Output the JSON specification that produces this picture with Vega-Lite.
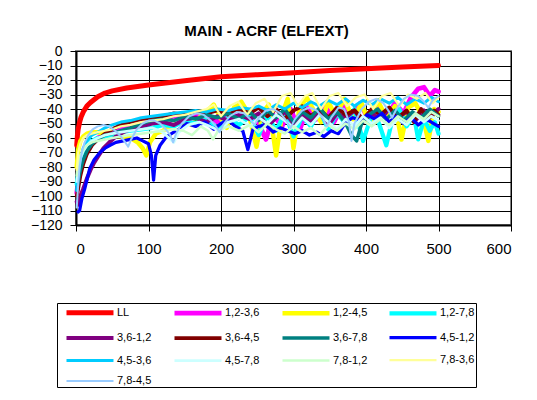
{
"$schema":"https://vega.github.io/schema/vega-lite/v6.json",
"width":435,"height":174,"autosize":"none",
"padding":{"left":76,"top":51,"right":26,"bottom":175},
"background":"white",
"title":{"text":"MAIN - ACRF (ELFEXT)","font":"Liberation Sans","fontSize":15,"fontWeight":"bold","color":"black","anchor":"middle","dx":-27,"offset":5},
"data":{"values":[
{"s":"LL","x":1,"y":-65},{"s":"LL","x":2,"y":-58},{"s":"LL","x":3,"y":-54},{"s":"LL","x":5,"y":-49},{"s":"LL","x":7,"y":-45.5},{"s":"LL","x":10,"y":-42},{"s":"LL","x":15,"y":-38},{"s":"LL","x":20,"y":-35.5},{"s":"LL","x":30,"y":-31.5},{"s":"LL","x":40,"y":-29},{"s":"LL","x":50,"y":-27.5},{"s":"LL","x":70,"y":-25.5},{"s":"LL","x":100,"y":-23.5},{"s":"LL","x":150,"y":-20.5},{"s":"LL","x":200,"y":-17.8},{"s":"LL","x":250,"y":-16.3},{"s":"LL","x":300,"y":-15},{"s":"LL","x":350,"y":-13.5},{"s":"LL","x":400,"y":-12.2},{"s":"LL","x":450,"y":-11},{"s":"LL","x":500,"y":-10},
{"s":"1,2-3,6","x":1,"y":-98},{"s":"1,2-3,6","x":3,"y":-90},{"s":"1,2-3,6","x":6,"y":-80},{"s":"1,2-3,6","x":10,"y":-74},{"s":"1,2-3,6","x":15,"y":-69},{"s":"1,2-3,6","x":22,"y":-64},{"s":"1,2-3,6","x":30,"y":-60},{"s":"1,2-3,6","x":40,"y":-57},{"s":"1,2-3,6","x":50,"y":-55},{"s":"1,2-3,6","x":62,"y":-53},{"s":"1,2-3,6","x":75,"y":-51},{"s":"1,2-3,6","x":90,"y":-49},{"s":"1,2-3,6","x":105,"y":-48},{"s":"1,2-3,6","x":120,"y":-47},{"s":"1,2-3,6","x":135,"y":-45},{"s":"1,2-3,6","x":150,"y":-48},{"s":"1,2-3,6","x":165,"y":-44},{"s":"1,2-3,6","x":180,"y":-43},{"s":"1,2-3,6","x":195,"y":-49},{"s":"1,2-3,6","x":210,"y":-42},{"s":"1,2-3,6","x":225,"y":-46},{"s":"1,2-3,6","x":240,"y":-41},{"s":"1,2-3,6","x":252,"y":-50},{"s":"1,2-3,6","x":262,"y":-61},{"s":"1,2-3,6","x":272,"y":-44},{"s":"1,2-3,6","x":284,"y":-52},{"s":"1,2-3,6","x":296,"y":-40},{"s":"1,2-3,6","x":308,"y":-55},{"s":"1,2-3,6","x":320,"y":-39},{"s":"1,2-3,6","x":332,"y":-47},{"s":"1,2-3,6","x":344,"y":-38},{"s":"1,2-3,6","x":356,"y":-49},{"s":"1,2-3,6","x":368,"y":-37},{"s":"1,2-3,6","x":380,"y":-44},{"s":"1,2-3,6","x":392,"y":-36},{"s":"1,2-3,6","x":404,"y":-48},{"s":"1,2-3,6","x":416,"y":-38},{"s":"1,2-3,6","x":428,"y":-45},{"s":"1,2-3,6","x":440,"y":-36},{"s":"1,2-3,6","x":452,"y":-43},{"s":"1,2-3,6","x":462,"y":-32},{"s":"1,2-3,6","x":472,"y":-26},{"s":"1,2-3,6","x":480,"y":-25},{"s":"1,2-3,6","x":488,"y":-31},{"s":"1,2-3,6","x":495,"y":-27},{"s":"1,2-3,6","x":500,"y":-28},
{"s":"1,2-4,5","x":1,"y":-80},{"s":"1,2-4,5","x":3,"y":-68},{"s":"1,2-4,5","x":6,"y":-62},{"s":"1,2-4,5","x":10,"y":-59},{"s":"1,2-4,5","x":15,"y":-57},{"s":"1,2-4,5","x":22,"y":-56},{"s":"1,2-4,5","x":30,"y":-56},{"s":"1,2-4,5","x":40,"y":-57},{"s":"1,2-4,5","x":50,"y":-58},{"s":"1,2-4,5","x":62,"y":-59},{"s":"1,2-4,5","x":75,"y":-60},{"s":"1,2-4,5","x":85,"y":-63},{"s":"1,2-4,5","x":92,"y":-67},{"s":"1,2-4,5","x":97,"y":-72},{"s":"1,2-4,5","x":102,"y":-63},{"s":"1,2-4,5","x":110,"y":-57},{"s":"1,2-4,5","x":120,"y":-55},{"s":"1,2-4,5","x":130,"y":-52},{"s":"1,2-4,5","x":140,"y":-50},{"s":"1,2-4,5","x":150,"y":-49},{"s":"1,2-4,5","x":160,"y":-51},{"s":"1,2-4,5","x":170,"y":-46},{"s":"1,2-4,5","x":180,"y":-42},{"s":"1,2-4,5","x":190,"y":-37},{"s":"1,2-4,5","x":198,"y":-45},{"s":"1,2-4,5","x":208,"y":-53},{"s":"1,2-4,5","x":218,"y":-39},{"s":"1,2-4,5","x":228,"y":-35},{"s":"1,2-4,5","x":238,"y":-43},{"s":"1,2-4,5","x":249,"y":-66},{"s":"1,2-4,5","x":258,"y":-42},{"s":"1,2-4,5","x":266,"y":-37},{"s":"1,2-4,5","x":276,"y":-72},{"s":"1,2-4,5","x":284,"y":-44},{"s":"1,2-4,5","x":292,"y":-33},{"s":"1,2-4,5","x":300,"y":-67},{"s":"1,2-4,5","x":308,"y":-40},{"s":"1,2-4,5","x":318,"y":-32},{"s":"1,2-4,5","x":328,"y":-41},{"s":"1,2-4,5","x":338,"y":-49},{"s":"1,2-4,5","x":348,"y":-35},{"s":"1,2-4,5","x":358,"y":-45},{"s":"1,2-4,5","x":370,"y":-33},{"s":"1,2-4,5","x":382,"y":-47},{"s":"1,2-4,5","x":394,"y":-36},{"s":"1,2-4,5","x":405,"y":-51},{"s":"1,2-4,5","x":416,"y":-34},{"s":"1,2-4,5","x":428,"y":-46},{"s":"1,2-4,5","x":440,"y":-38},{"s":"1,2-4,5","x":449,"y":-61},{"s":"1,2-4,5","x":458,"y":-39},{"s":"1,2-4,5","x":468,"y":-36},{"s":"1,2-4,5","x":478,"y":-45},{"s":"1,2-4,5","x":486,"y":-62},{"s":"1,2-4,5","x":494,"y":-40},{"s":"1,2-4,5","x":500,"y":-42},
{"s":"1,2-7,8","x":1,"y":-92},{"s":"1,2-7,8","x":3,"y":-84},{"s":"1,2-7,8","x":6,"y":-76},{"s":"1,2-7,8","x":10,"y":-70},{"s":"1,2-7,8","x":15,"y":-65},{"s":"1,2-7,8","x":22,"y":-62},{"s":"1,2-7,8","x":30,"y":-60},{"s":"1,2-7,8","x":40,"y":-59},{"s":"1,2-7,8","x":50,"y":-58},{"s":"1,2-7,8","x":62,"y":-56},{"s":"1,2-7,8","x":75,"y":-55},{"s":"1,2-7,8","x":90,"y":-54},{"s":"1,2-7,8","x":105,"y":-53},{"s":"1,2-7,8","x":120,"y":-51},{"s":"1,2-7,8","x":135,"y":-52},{"s":"1,2-7,8","x":150,"y":-48},{"s":"1,2-7,8","x":165,"y":-50},{"s":"1,2-7,8","x":180,"y":-47},{"s":"1,2-7,8","x":195,"y":-53},{"s":"1,2-7,8","x":210,"y":-46},{"s":"1,2-7,8","x":225,"y":-51},{"s":"1,2-7,8","x":240,"y":-45},{"s":"1,2-7,8","x":252,"y":-58},{"s":"1,2-7,8","x":264,"y":-44},{"s":"1,2-7,8","x":276,"y":-55},{"s":"1,2-7,8","x":288,"y":-43},{"s":"1,2-7,8","x":300,"y":-59},{"s":"1,2-7,8","x":312,"y":-45},{"s":"1,2-7,8","x":324,"y":-52},{"s":"1,2-7,8","x":336,"y":-41},{"s":"1,2-7,8","x":348,"y":-54},{"s":"1,2-7,8","x":360,"y":-43},{"s":"1,2-7,8","x":372,"y":-50},{"s":"1,2-7,8","x":384,"y":-40},{"s":"1,2-7,8","x":396,"y":-62},{"s":"1,2-7,8","x":408,"y":-44},{"s":"1,2-7,8","x":418,"y":-50},{"s":"1,2-7,8","x":428,"y":-65},{"s":"1,2-7,8","x":436,"y":-48},{"s":"1,2-7,8","x":446,"y":-40},{"s":"1,2-7,8","x":456,"y":-52},{"s":"1,2-7,8","x":466,"y":-44},{"s":"1,2-7,8","x":472,"y":-61},{"s":"1,2-7,8","x":480,"y":-47},{"s":"1,2-7,8","x":488,"y":-55},{"s":"1,2-7,8","x":495,"y":-49},{"s":"1,2-7,8","x":500,"y":-57},
{"s":"3,6-1,2","x":1,"y":-104},{"s":"3,6-1,2","x":3,"y":-106},{"s":"3,6-1,2","x":6,"y":-100},{"s":"3,6-1,2","x":10,"y":-95},{"s":"3,6-1,2","x":15,"y":-88},{"s":"3,6-1,2","x":20,"y":-82},{"s":"3,6-1,2","x":25,"y":-77},{"s":"3,6-1,2","x":30,"y":-73},{"s":"3,6-1,2","x":38,"y":-67},{"s":"3,6-1,2","x":46,"y":-63},{"s":"3,6-1,2","x":55,"y":-59},{"s":"3,6-1,2","x":65,"y":-56},{"s":"3,6-1,2","x":75,"y":-54},{"s":"3,6-1,2","x":90,"y":-52},{"s":"3,6-1,2","x":105,"y":-50},{"s":"3,6-1,2","x":120,"y":-49},{"s":"3,6-1,2","x":135,"y":-51},{"s":"3,6-1,2","x":150,"y":-47},{"s":"3,6-1,2","x":165,"y":-46},{"s":"3,6-1,2","x":180,"y":-49},{"s":"3,6-1,2","x":195,"y":-45},{"s":"3,6-1,2","x":210,"y":-48},{"s":"3,6-1,2","x":225,"y":-44},{"s":"3,6-1,2","x":240,"y":-47},{"s":"3,6-1,2","x":252,"y":-43},{"s":"3,6-1,2","x":264,"y":-52},{"s":"3,6-1,2","x":276,"y":-46},{"s":"3,6-1,2","x":288,"y":-42},{"s":"3,6-1,2","x":300,"y":-50},{"s":"3,6-1,2","x":312,"y":-44},{"s":"3,6-1,2","x":324,"y":-48},{"s":"3,6-1,2","x":336,"y":-42},{"s":"3,6-1,2","x":348,"y":-51},{"s":"3,6-1,2","x":360,"y":-43},{"s":"3,6-1,2","x":372,"y":-46},{"s":"3,6-1,2","x":384,"y":-41},{"s":"3,6-1,2","x":396,"y":-49},{"s":"3,6-1,2","x":408,"y":-43},{"s":"3,6-1,2","x":420,"y":-47},{"s":"3,6-1,2","x":432,"y":-40},{"s":"3,6-1,2","x":444,"y":-46},{"s":"3,6-1,2","x":456,"y":-42},{"s":"3,6-1,2","x":468,"y":-48},{"s":"3,6-1,2","x":480,"y":-41},{"s":"3,6-1,2","x":490,"y":-45},{"s":"3,6-1,2","x":500,"y":-40},
{"s":"3,6-4,5","x":1,"y":-100},{"s":"3,6-4,5","x":3,"y":-95},{"s":"3,6-4,5","x":6,"y":-86},{"s":"3,6-4,5","x":10,"y":-78},{"s":"3,6-4,5","x":15,"y":-71},{"s":"3,6-4,5","x":22,"y":-65},{"s":"3,6-4,5","x":30,"y":-61},{"s":"3,6-4,5","x":40,"y":-57},{"s":"3,6-4,5","x":50,"y":-54},{"s":"3,6-4,5","x":62,"y":-51},{"s":"3,6-4,5","x":75,"y":-49},{"s":"3,6-4,5","x":90,"y":-47},{"s":"3,6-4,5","x":105,"y":-46},{"s":"3,6-4,5","x":120,"y":-45},{"s":"3,6-4,5","x":135,"y":-43},{"s":"3,6-4,5","x":150,"y":-44},{"s":"3,6-4,5","x":165,"y":-42},{"s":"3,6-4,5","x":180,"y":-43},{"s":"3,6-4,5","x":195,"y":-41},{"s":"3,6-4,5","x":210,"y":-44},{"s":"3,6-4,5","x":225,"y":-40},{"s":"3,6-4,5","x":240,"y":-43},{"s":"3,6-4,5","x":252,"y":-39},{"s":"3,6-4,5","x":264,"y":-45},{"s":"3,6-4,5","x":276,"y":-40},{"s":"3,6-4,5","x":288,"y":-47},{"s":"3,6-4,5","x":300,"y":-41},{"s":"3,6-4,5","x":312,"y":-38},{"s":"3,6-4,5","x":324,"y":-45},{"s":"3,6-4,5","x":336,"y":-40},{"s":"3,6-4,5","x":348,"y":-46},{"s":"3,6-4,5","x":360,"y":-39},{"s":"3,6-4,5","x":372,"y":-44},{"s":"3,6-4,5","x":384,"y":-41},{"s":"3,6-4,5","x":396,"y":-47},{"s":"3,6-4,5","x":408,"y":-40},{"s":"3,6-4,5","x":420,"y":-44},{"s":"3,6-4,5","x":432,"y":-39},{"s":"3,6-4,5","x":444,"y":-46},{"s":"3,6-4,5","x":456,"y":-41},{"s":"3,6-4,5","x":466,"y":-49},{"s":"3,6-4,5","x":476,"y":-40},{"s":"3,6-4,5","x":486,"y":-47},{"s":"3,6-4,5","x":494,"y":-41},{"s":"3,6-4,5","x":500,"y":-44},
{"s":"3,6-7,8","x":1,"y":-96},{"s":"3,6-7,8","x":3,"y":-90},{"s":"3,6-7,8","x":6,"y":-82},{"s":"3,6-7,8","x":10,"y":-75},{"s":"3,6-7,8","x":15,"y":-69},{"s":"3,6-7,8","x":22,"y":-64},{"s":"3,6-7,8","x":30,"y":-61},{"s":"3,6-7,8","x":40,"y":-58},{"s":"3,6-7,8","x":50,"y":-57},{"s":"3,6-7,8","x":62,"y":-55},{"s":"3,6-7,8","x":75,"y":-53},{"s":"3,6-7,8","x":90,"y":-50},{"s":"3,6-7,8","x":105,"y":-48},{"s":"3,6-7,8","x":120,"y":-47},{"s":"3,6-7,8","x":135,"y":-48},{"s":"3,6-7,8","x":150,"y":-45},{"s":"3,6-7,8","x":165,"y":-47},{"s":"3,6-7,8","x":180,"y":-44},{"s":"3,6-7,8","x":195,"y":-46},{"s":"3,6-7,8","x":210,"y":-43},{"s":"3,6-7,8","x":225,"y":-47},{"s":"3,6-7,8","x":240,"y":-42},{"s":"3,6-7,8","x":252,"y":-48},{"s":"3,6-7,8","x":264,"y":-41},{"s":"3,6-7,8","x":276,"y":-46},{"s":"3,6-7,8","x":288,"y":-40},{"s":"3,6-7,8","x":300,"y":-49},{"s":"3,6-7,8","x":312,"y":-42},{"s":"3,6-7,8","x":324,"y":-46},{"s":"3,6-7,8","x":336,"y":-39},{"s":"3,6-7,8","x":348,"y":-47},{"s":"3,6-7,8","x":360,"y":-42},{"s":"3,6-7,8","x":372,"y":-50},{"s":"3,6-7,8","x":380,"y":-58},{"s":"3,6-7,8","x":387,"y":-62},{"s":"3,6-7,8","x":394,"y":-50},{"s":"3,6-7,8","x":404,"y":-44},{"s":"3,6-7,8","x":416,"y":-40},{"s":"3,6-7,8","x":428,"y":-47},{"s":"3,6-7,8","x":440,"y":-41},{"s":"3,6-7,8","x":452,"y":-48},{"s":"3,6-7,8","x":464,"y":-42},{"s":"3,6-7,8","x":476,"y":-46},{"s":"3,6-7,8","x":488,"y":-40},{"s":"3,6-7,8","x":500,"y":-45},
{"s":"4,5-1,2","x":3,"y":-111},{"s":"4,5-1,2","x":5,"y":-110},{"s":"4,5-1,2","x":8,"y":-102},{"s":"4,5-1,2","x":12,"y":-95},{"s":"4,5-1,2","x":16,"y":-87},{"s":"4,5-1,2","x":19,"y":-81},{"s":"4,5-1,2","x":25,"y":-75},{"s":"4,5-1,2","x":33,"y":-70},{"s":"4,5-1,2","x":40,"y":-67},{"s":"4,5-1,2","x":47,"y":-65},{"s":"4,5-1,2","x":55,"y":-63},{"s":"4,5-1,2","x":65,"y":-62},{"s":"4,5-1,2","x":75,"y":-61},{"s":"4,5-1,2","x":84,"y":-60},{"s":"4,5-1,2","x":92,"y":-62},{"s":"4,5-1,2","x":100,"y":-64},{"s":"4,5-1,2","x":104,"y":-72},{"s":"4,5-1,2","x":107,"y":-89},{"s":"4,5-1,2","x":110,"y":-72},{"s":"4,5-1,2","x":116,"y":-65},{"s":"4,5-1,2","x":125,"y":-59},{"s":"4,5-1,2","x":135,"y":-56},{"s":"4,5-1,2","x":145,"y":-53},{"s":"4,5-1,2","x":153,"y":-50},{"s":"4,5-1,2","x":165,"y":-52},{"s":"4,5-1,2","x":178,"y":-49},{"s":"4,5-1,2","x":190,"y":-54},{"s":"4,5-1,2","x":200,"y":-50},{"s":"4,5-1,2","x":210,"y":-48},{"s":"4,5-1,2","x":220,"y":-52},{"s":"4,5-1,2","x":230,"y":-55},{"s":"4,5-1,2","x":237,"y":-68},{"s":"4,5-1,2","x":244,"y":-54},{"s":"4,5-1,2","x":252,"y":-52},{"s":"4,5-1,2","x":262,"y":-51},{"s":"4,5-1,2","x":272,"y":-56},{"s":"4,5-1,2","x":282,"y":-53},{"s":"4,5-1,2","x":292,"y":-55},{"s":"4,5-1,2","x":302,"y":-57},{"s":"4,5-1,2","x":312,"y":-55},{"s":"4,5-1,2","x":322,"y":-58},{"s":"4,5-1,2","x":332,"y":-56},{"s":"4,5-1,2","x":342,"y":-59},{"s":"4,5-1,2","x":352,"y":-55},{"s":"4,5-1,2","x":362,"y":-57},{"s":"4,5-1,2","x":372,"y":-49},{"s":"4,5-1,2","x":382,"y":-46},{"s":"4,5-1,2","x":392,"y":-48},{"s":"4,5-1,2","x":402,"y":-44},{"s":"4,5-1,2","x":412,"y":-47},{"s":"4,5-1,2","x":422,"y":-43},{"s":"4,5-1,2","x":432,"y":-49},{"s":"4,5-1,2","x":442,"y":-45},{"s":"4,5-1,2","x":452,"y":-50},{"s":"4,5-1,2","x":462,"y":-46},{"s":"4,5-1,2","x":472,"y":-51},{"s":"4,5-1,2","x":482,"y":-47},{"s":"4,5-1,2","x":490,"y":-49},{"s":"4,5-1,2","x":500,"y":-52},
{"s":"4,5-3,6","x":1,"y":-96},{"s":"4,5-3,6","x":3,"y":-86},{"s":"4,5-3,6","x":6,"y":-75},{"s":"4,5-3,6","x":10,"y":-67},{"s":"4,5-3,6","x":15,"y":-62},{"s":"4,5-3,6","x":22,"y":-58},{"s":"4,5-3,6","x":30,"y":-56},{"s":"4,5-3,6","x":40,"y":-53},{"s":"4,5-3,6","x":50,"y":-51},{"s":"4,5-3,6","x":62,"y":-49},{"s":"4,5-3,6","x":75,"y":-48},{"s":"4,5-3,6","x":90,"y":-46},{"s":"4,5-3,6","x":105,"y":-45},{"s":"4,5-3,6","x":120,"y":-44},{"s":"4,5-3,6","x":135,"y":-43},{"s":"4,5-3,6","x":150,"y":-42},{"s":"4,5-3,6","x":165,"y":-41},{"s":"4,5-3,6","x":180,"y":-42},{"s":"4,5-3,6","x":195,"y":-40},{"s":"4,5-3,6","x":210,"y":-41},{"s":"4,5-3,6","x":225,"y":-39},{"s":"4,5-3,6","x":240,"y":-40},{"s":"4,5-3,6","x":252,"y":-38},{"s":"4,5-3,6","x":264,"y":-41},{"s":"4,5-3,6","x":276,"y":-37},{"s":"4,5-3,6","x":288,"y":-40},{"s":"4,5-3,6","x":300,"y":-36},{"s":"4,5-3,6","x":312,"y":-39},{"s":"4,5-3,6","x":324,"y":-35},{"s":"4,5-3,6","x":336,"y":-38},{"s":"4,5-3,6","x":348,"y":-34},{"s":"4,5-3,6","x":360,"y":-37},{"s":"4,5-3,6","x":372,"y":-33},{"s":"4,5-3,6","x":384,"y":-38},{"s":"4,5-3,6","x":396,"y":-34},{"s":"4,5-3,6","x":408,"y":-37},{"s":"4,5-3,6","x":420,"y":-33},{"s":"4,5-3,6","x":432,"y":-36},{"s":"4,5-3,6","x":444,"y":-32},{"s":"4,5-3,6","x":456,"y":-37},{"s":"4,5-3,6","x":468,"y":-33},{"s":"4,5-3,6","x":480,"y":-36},{"s":"4,5-3,6","x":490,"y":-32},{"s":"4,5-3,6","x":500,"y":-35},
{"s":"4,5-7,8","x":1,"y":-90},{"s":"4,5-7,8","x":3,"y":-82},{"s":"4,5-7,8","x":6,"y":-74},{"s":"4,5-7,8","x":10,"y":-69},{"s":"4,5-7,8","x":15,"y":-65},{"s":"4,5-7,8","x":22,"y":-62},{"s":"4,5-7,8","x":30,"y":-60},{"s":"4,5-7,8","x":40,"y":-58},{"s":"4,5-7,8","x":50,"y":-57},{"s":"4,5-7,8","x":62,"y":-56},{"s":"4,5-7,8","x":75,"y":-55},{"s":"4,5-7,8","x":90,"y":-54},{"s":"4,5-7,8","x":105,"y":-53},{"s":"4,5-7,8","x":120,"y":-56},{"s":"4,5-7,8","x":128,"y":-60},{"s":"4,5-7,8","x":135,"y":-63},{"s":"4,5-7,8","x":142,"y":-56},{"s":"4,5-7,8","x":155,"y":-51},{"s":"4,5-7,8","x":170,"y":-49},{"s":"4,5-7,8","x":185,"y":-52},{"s":"4,5-7,8","x":198,"y":-55},{"s":"4,5-7,8","x":210,"y":-49},{"s":"4,5-7,8","x":225,"y":-47},{"s":"4,5-7,8","x":240,"y":-52},{"s":"4,5-7,8","x":252,"y":-46},{"s":"4,5-7,8","x":264,"y":-50},{"s":"4,5-7,8","x":276,"y":-44},{"s":"4,5-7,8","x":288,"y":-48},{"s":"4,5-7,8","x":300,"y":-53},{"s":"4,5-7,8","x":312,"y":-46},{"s":"4,5-7,8","x":324,"y":-51},{"s":"4,5-7,8","x":336,"y":-44},{"s":"4,5-7,8","x":348,"y":-49},{"s":"4,5-7,8","x":360,"y":-54},{"s":"4,5-7,8","x":372,"y":-47},{"s":"4,5-7,8","x":384,"y":-52},{"s":"4,5-7,8","x":396,"y":-45},{"s":"4,5-7,8","x":408,"y":-50},{"s":"4,5-7,8","x":420,"y":-46},{"s":"4,5-7,8","x":432,"y":-53},{"s":"4,5-7,8","x":444,"y":-47},{"s":"4,5-7,8","x":456,"y":-51},{"s":"4,5-7,8","x":468,"y":-44},{"s":"4,5-7,8","x":480,"y":-49},{"s":"4,5-7,8","x":490,"y":-45},{"s":"4,5-7,8","x":500,"y":-48},
{"s":"7,8-1,2","x":1,"y":-86},{"s":"7,8-1,2","x":3,"y":-78},{"s":"7,8-1,2","x":6,"y":-72},{"s":"7,8-1,2","x":10,"y":-68},{"s":"7,8-1,2","x":15,"y":-65},{"s":"7,8-1,2","x":22,"y":-63},{"s":"7,8-1,2","x":30,"y":-62},{"s":"7,8-1,2","x":40,"y":-61},{"s":"7,8-1,2","x":50,"y":-60},{"s":"7,8-1,2","x":62,"y":-59},{"s":"7,8-1,2","x":75,"y":-58},{"s":"7,8-1,2","x":90,"y":-57},{"s":"7,8-1,2","x":105,"y":-56},{"s":"7,8-1,2","x":120,"y":-55},{"s":"7,8-1,2","x":135,"y":-54},{"s":"7,8-1,2","x":148,"y":-55},{"s":"7,8-1,2","x":160,"y":-58},{"s":"7,8-1,2","x":172,"y":-52},{"s":"7,8-1,2","x":182,"y":-55},{"s":"7,8-1,2","x":189,"y":-61},{"s":"7,8-1,2","x":196,"y":-55},{"s":"7,8-1,2","x":210,"y":-52},{"s":"7,8-1,2","x":225,"y":-55},{"s":"7,8-1,2","x":240,"y":-51},{"s":"7,8-1,2","x":252,"y":-56},{"s":"7,8-1,2","x":264,"y":-50},{"s":"7,8-1,2","x":276,"y":-54},{"s":"7,8-1,2","x":288,"y":-57},{"s":"7,8-1,2","x":300,"y":-52},{"s":"7,8-1,2","x":312,"y":-56},{"s":"7,8-1,2","x":324,"y":-53},{"s":"7,8-1,2","x":336,"y":-58},{"s":"7,8-1,2","x":348,"y":-51},{"s":"7,8-1,2","x":360,"y":-55},{"s":"7,8-1,2","x":372,"y":-50},{"s":"7,8-1,2","x":384,"y":-54},{"s":"7,8-1,2","x":396,"y":-48},{"s":"7,8-1,2","x":408,"y":-52},{"s":"7,8-1,2","x":420,"y":-47},{"s":"7,8-1,2","x":432,"y":-51},{"s":"7,8-1,2","x":444,"y":-45},{"s":"7,8-1,2","x":456,"y":-49},{"s":"7,8-1,2","x":468,"y":-43},{"s":"7,8-1,2","x":480,"y":-47},{"s":"7,8-1,2","x":490,"y":-42},{"s":"7,8-1,2","x":500,"y":-45},
{"s":"7,8-3,6","x":1,"y":-82},{"s":"7,8-3,6","x":3,"y":-70},{"s":"7,8-3,6","x":6,"y":-64},{"s":"7,8-3,6","x":10,"y":-60},{"s":"7,8-3,6","x":15,"y":-58},{"s":"7,8-3,6","x":22,"y":-57},{"s":"7,8-3,6","x":30,"y":-56},{"s":"7,8-3,6","x":40,"y":-55},{"s":"7,8-3,6","x":50,"y":-54},{"s":"7,8-3,6","x":62,"y":-52},{"s":"7,8-3,6","x":75,"y":-51},{"s":"7,8-3,6","x":90,"y":-49},{"s":"7,8-3,6","x":105,"y":-48},{"s":"7,8-3,6","x":120,"y":-47},{"s":"7,8-3,6","x":135,"y":-45},{"s":"7,8-3,6","x":150,"y":-44},{"s":"7,8-3,6","x":165,"y":-42},{"s":"7,8-3,6","x":180,"y":-40},{"s":"7,8-3,6","x":190,"y":-37},{"s":"7,8-3,6","x":200,"y":-45},{"s":"7,8-3,6","x":212,"y":-38},{"s":"7,8-3,6","x":224,"y":-35},{"s":"7,8-3,6","x":236,"y":-44},{"s":"7,8-3,6","x":248,"y":-36},{"s":"7,8-3,6","x":260,"y":-33},{"s":"7,8-3,6","x":272,"y":-42},{"s":"7,8-3,6","x":284,"y":-31},{"s":"7,8-3,6","x":296,"y":-29},{"s":"7,8-3,6","x":306,"y":-38},{"s":"7,8-3,6","x":316,"y":-31},{"s":"7,8-3,6","x":326,"y":-29},{"s":"7,8-3,6","x":338,"y":-40},{"s":"7,8-3,6","x":350,"y":-31},{"s":"7,8-3,6","x":362,"y":-29},{"s":"7,8-3,6","x":374,"y":-38},{"s":"7,8-3,6","x":386,"y":-32},{"s":"7,8-3,6","x":398,"y":-30},{"s":"7,8-3,6","x":410,"y":-40},{"s":"7,8-3,6","x":422,"y":-31},{"s":"7,8-3,6","x":434,"y":-29},{"s":"7,8-3,6","x":446,"y":-38},{"s":"7,8-3,6","x":458,"y":-30},{"s":"7,8-3,6","x":470,"y":-33},{"s":"7,8-3,6","x":482,"y":-29},{"s":"7,8-3,6","x":492,"y":-36},{"s":"7,8-3,6","x":500,"y":-32},
{"s":"7,8-4,5","x":1,"y":-108},{"s":"7,8-4,5","x":3,"y":-92},{"s":"7,8-4,5","x":5,"y":-80},{"s":"7,8-4,5","x":8,"y":-70},{"s":"7,8-4,5","x":12,"y":-63},{"s":"7,8-4,5","x":17,"y":-58},{"s":"7,8-4,5","x":23,"y":-54},{"s":"7,8-4,5","x":30,"y":-52},{"s":"7,8-4,5","x":38,"y":-51},{"s":"7,8-4,5","x":46,"y":-52},{"s":"7,8-4,5","x":54,"y":-55},{"s":"7,8-4,5","x":62,"y":-59},{"s":"7,8-4,5","x":68,"y":-63},{"s":"7,8-4,5","x":72,"y":-66},{"s":"7,8-4,5","x":76,"y":-61},{"s":"7,8-4,5","x":84,"y":-54},{"s":"7,8-4,5","x":92,"y":-50},{"s":"7,8-4,5","x":100,"y":-48},{"s":"7,8-4,5","x":108,"y":-48},{"s":"7,8-4,5","x":116,"y":-50},{"s":"7,8-4,5","x":124,"y":-54},{"s":"7,8-4,5","x":130,"y":-58},{"s":"7,8-4,5","x":134,"y":-63},{"s":"7,8-4,5","x":138,"y":-57},{"s":"7,8-4,5","x":146,"y":-50},{"s":"7,8-4,5","x":156,"y":-45},{"s":"7,8-4,5","x":166,"y":-43},{"s":"7,8-4,5","x":176,"y":-44},{"s":"7,8-4,5","x":186,"y":-48},{"s":"7,8-4,5","x":193,"y":-52},{"s":"7,8-4,5","x":198,"y":-56},{"s":"7,8-4,5","x":203,"y":-51},{"s":"7,8-4,5","x":212,"y":-45},{"s":"7,8-4,5","x":222,"y":-42},{"s":"7,8-4,5","x":232,"y":-43},{"s":"7,8-4,5","x":240,"y":-47},{"s":"7,8-4,5","x":246,"y":-51},{"s":"7,8-4,5","x":252,"y":-46},{"s":"7,8-4,5","x":262,"y":-41},{"s":"7,8-4,5","x":272,"y":-40},{"s":"7,8-4,5","x":282,"y":-43},{"s":"7,8-4,5","x":290,"y":-48},{"s":"7,8-4,5","x":296,"y":-53},{"s":"7,8-4,5","x":302,"y":-47},{"s":"7,8-4,5","x":312,"y":-41},{"s":"7,8-4,5","x":322,"y":-39},{"s":"7,8-4,5","x":332,"y":-41},{"s":"7,8-4,5","x":340,"y":-46},{"s":"7,8-4,5","x":346,"y":-52},{"s":"7,8-4,5","x":352,"y":-46},{"s":"7,8-4,5","x":362,"y":-39},{"s":"7,8-4,5","x":370,"y":-40},{"s":"7,8-4,5","x":376,"y":-48},{"s":"7,8-4,5","x":380,"y":-62},{"s":"7,8-4,5","x":384,"y":-50},{"s":"7,8-4,5","x":394,"y":-40},{"s":"7,8-4,5","x":404,"y":-35},{"s":"7,8-4,5","x":414,"y":-33},{"s":"7,8-4,5","x":424,"y":-36},{"s":"7,8-4,5","x":432,"y":-42},{"s":"7,8-4,5","x":436,"y":-46},{"s":"7,8-4,5","x":442,"y":-40},{"s":"7,8-4,5","x":452,"y":-33},{"s":"7,8-4,5","x":462,"y":-30},{"s":"7,8-4,5","x":472,"y":-31},{"s":"7,8-4,5","x":480,"y":-35},{"s":"7,8-4,5","x":486,"y":-39},{"s":"7,8-4,5","x":492,"y":-34},{"s":"7,8-4,5","x":500,"y":-31}
]},
"mark":{"type":"line","interpolate":"linear","strokeCap":"round","strokeJoin":"round"},
"encoding":{
"x":{"field":"x","type":"quantitative","scale":{"domain":[0,600],"nice":false},"axis":{"values":[0,100,200,300,400,500,600],"title":null,"labelOverlap":false}},
"y":{"field":"y","type":"quantitative","scale":{"domain":[-120,0],"nice":false},"axis":{"values":[-120,-110,-100,-90,-80,-70,-60,-50,-40,-30,-20,-10,0],"title":null,"labelOverlap":false,"labelFontSize":14}},
"color":{"field":"s","type":"nominal",
"scale":{"domain":["LL","1,2-3,6","1,2-4,5","1,2-7,8","3,6-1,2","3,6-4,5","3,6-7,8","4,5-1,2","4,5-3,6","4,5-7,8","7,8-1,2","7,8-3,6","7,8-4,5"],
"range":["#FF0000","#FF00FF","#FFFF00","#00FFFF","#800080","#800000","#008080","#0000FF","#00CCFF","#CCFFFF","#CCFFCC","#FFFF99","#99CCFF"]},
"legend":{"title":null,"orient":"none","legendX":-19,"legendY":252,"columns":4,"direction":"horizontal"}},
"strokeWidth":{"field":"s","type":"ordinal",
"scale":{"domain":["LL","1,2-3,6","1,2-4,5","1,2-7,8","3,6-1,2","3,6-4,5","3,6-7,8","4,5-1,2","4,5-3,6","4,5-7,8","7,8-1,2","7,8-3,6","7,8-4,5"],
"range":[5,2,2.5,2,2,2,2,3,2,2,2,2,2.5]},
"legend":{"title":null,"orient":"none","legendX":-19,"legendY":252,"columns":4,"direction":"horizontal"}}
},
"config":{
"font":"Liberation Sans",
"view":{"stroke":"#808080","strokeWidth":2},
"axis":{"labelFont":"Liberation Sans","labelFontSize":15,"labelColor":"black","domainColor":"black","domainWidth":2,"tickColor":"black","tickSize":6,"tickWidth":1,"gridColor":"black","gridWidth":1,"gridOpacity":1,"grid":true},
"axisX":{"labelPadding":10},
"axisY":{"labelPadding":8},
"legend":{"symbolType":"M0,0H8","symbolSize":138,"labelFont":"Liberation Sans","labelFontSize":11,"labelColor":"black","labelOffset":42,"columnPadding":13,"rowPadding":7,"padding":1,"strokeColor":"black","fillColor":"white","symbolOpacity":1,"symbolFillColor":"transparent","labelLimit":120}
}
}
